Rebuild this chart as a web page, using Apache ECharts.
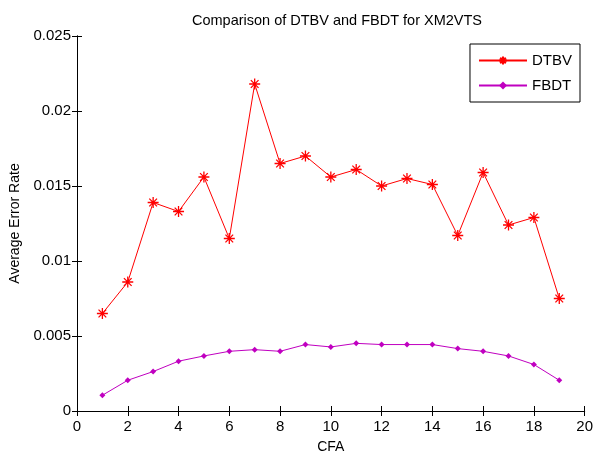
<!DOCTYPE html>
<html>
<head>
<meta charset="utf-8">
<script src="https://cdn.jsdelivr.net/npm/echarts@6/dist/echarts.min.js"></script>
<style>html,body{margin:0;padding:0;background:#fff;}#c{width:596px;height:459px;}</style>
</head>
<body>
<div id="c"></div>
<script>
const cfa = [1,2,3,4,5,6,7,8,9,10,11,12,13,14,15,16,17,18,19];
const dtbv = [0.0065,0.0086,0.0139,0.0133,0.0156,0.0115,0.0218,0.0165,0.0170,0.0156,0.0161,0.0150,0.0155,0.0151,0.0117,0.0159,0.0124,0.0129,0.0075];
const fbdt = [0.00105,0.00205,0.00263,0.00332,0.00367,0.00398,0.00409,0.00398,0.00443,0.00427,0.00451,0.00443,0.00443,0.00443,0.00416,0.00398,0.00367,0.00310,0.00205];
const seriesNames = ['DTBV','FBDT'];

const font = 'Liberation Sans, Arial, sans-serif';
const star = 'path://M0,-6L0,6M-6,0L6,0M-4.2,-4.2L4.2,4.2M-4.2,4.2L4.2,-4.2';
const chart = echarts.init(document.getElementById('c'));
const axLine = {show:true, lineStyle:{color:'#000', width:1}};
const tick = {show:true, inside:true, length:5, lineStyle:{color:'#000'}};
chart.setOption({
  animation:false,
  backgroundColor:'#fff',
  title:{text:'Comparison of DTBV and FBDT for XM2VTS', left:332, top:8, textAlign:'center',
    textStyle:{fontFamily:font, fontSize:14.5, fontWeight:'normal', color:'#000'}},
  grid:{left:77, right:8, top:36, bottom:47, show:false},
  legend:{right:16, top:44, orient:'vertical', itemWidth:48, itemHeight:10, itemGap:10,
    padding:[9,8,9,8], borderColor:'#000', borderWidth:1, backgroundColor:'#fff',
    textStyle:{fontFamily:font, fontSize:15, color:'#000'},
    data:[{name:seriesNames[0]},{name:seriesNames[1]}]},
  xAxis:[
    {type:'value', min:0, max:20, interval:2, position:'bottom',
     name:'CFA', nameLocation:'middle', nameGap:29,
     nameTextStyle:{fontFamily:font, fontSize:14, color:'#000'},
     axisLine:axLine, axisTick:tick, splitLine:{show:false},
     axisLabel:{fontFamily:font, fontSize:15, color:'#000', margin:8}},
    {type:'value', min:0, max:20, interval:2, position:'top',
     axisLine:axLine, axisTick:tick, splitLine:{show:false}, axisLabel:{show:false}}
  ],
  yAxis:[
    {type:'value', min:0, max:0.025, interval:0.005, position:'left',
     name:'Average Error Rate', nameLocation:'middle', nameGap:52,
     nameTextStyle:{fontFamily:font, fontSize:14, color:'#000'},
     axisLine:axLine, axisTick:tick, splitLine:{show:false},
     axisLabel:{fontFamily:font, fontSize:15, color:'#000', margin:6,
       formatter:v=>v===0?'0':String(+v.toFixed(3))}},
    {type:'value', min:0, max:0.025, interval:0.005, position:'right',
     axisLine:axLine, axisTick:tick, splitLine:{show:false}, axisLabel:{show:false}}
  ],
  series:[
    {name:seriesNames[0], type:'line', data:cfa.map((x,i)=>[x,dtbv[i]]),
     symbol:star, symbolSize:11, showAllSymbol:true,
     lineStyle:{color:'#ff0000', width:1},
     itemStyle:{color:'#ff0000', borderColor:'#ff0000', borderWidth:1.3}},
    {name:seriesNames[1], type:'line', data:cfa.map((x,i)=>[x,fbdt[i]]),
     symbol:'diamond', symbolSize:6, showAllSymbol:true,
     lineStyle:{color:'#c000c0', width:1},
     itemStyle:{color:'#c000c0', borderColor:'#c000c0', borderWidth:0}}
  ]
});
</script>
</body>
</html>
